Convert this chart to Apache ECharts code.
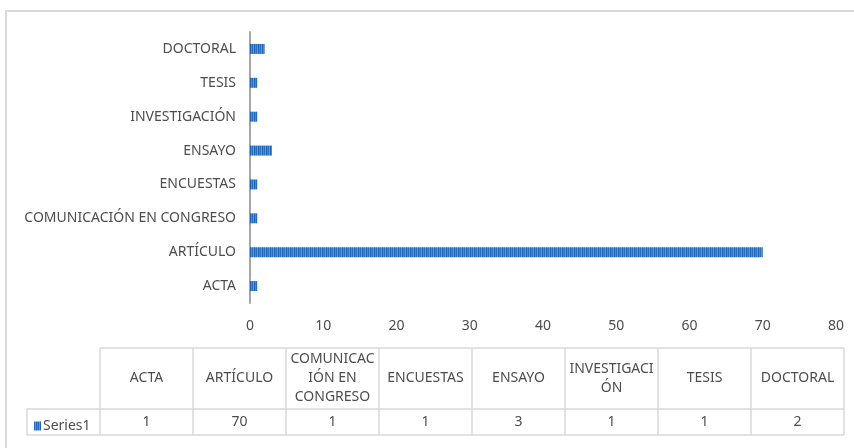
<!DOCTYPE html>
<html>
<head>
<meta charset="utf-8">
<script src="https://cdn.jsdelivr.net/npm/echarts@6/dist/echarts.min.js"></script>
<style>
  html, body { margin: 0; padding: 0; background: #fff; }
  #chart { width: 854px; height: 448px; }
</style>
</head>
<body>
<div id="chart"></div>
<script>
// datos del grafico
const categories = ['ACTA', 'ARTÍCULO', 'COMUNICACIÓN EN CONGRESO', 'ENCUESTAS', 'ENSAYO', 'INVESTIGACIÓN', 'TESIS', 'DOCTORAL'];
const headerLabels = ['ACTA', 'ARTÍCULO', 'COMUNICAC\nIÓN EN\nCONGRESO', 'ENCUESTAS', 'ENSAYO', 'INVESTIGACI\nÓN', 'TESIS', 'DOCTORAL'];
const series1 = [1, 70, 1, 1, 3, 1, 1, 2];
const xTicks = [0, 10, 20, 30, 40, 50, 60, 70, 80];
const seriesName = 'Series1';

const font = 'Noto Sans';
const textColor = '#4d4d4d';
const lineColor = '#d9d9d9';

// relleno rayado de las barras
function stripes() {
  const c = document.createElement('canvas');
  c.width = 4; c.height = 4;
  const ctx = c.getContext('2d');
  const cols = ['#2a6ebf', '#5b9bd5', '#1f62b0', '#4a88cf'];
  cols.forEach((col, i) => { ctx.fillStyle = col; ctx.fillRect(i, 0, 1, 4); });
  return c;
}
const barFill = { image: stripes(), repeat: 'repeat' };

// tabla de datos
const tLeft = 100, colW = 93, tTop = 348, headH = 61, rowH = 26, sLeft = 27;
const tRight = tLeft + colW * categories.length;
const graphics = [];
const line = (x1, y1, x2, y2) => graphics.push({
  type: 'line', silent: true,
  shape: { x1, y1, x2, y2 },
  style: { stroke: lineColor, lineWidth: 1.5 }
});
line(tLeft, tTop, tRight, tTop);
line(sLeft, tTop + headH, tRight, tTop + headH);
line(sLeft, tTop + headH + rowH, tRight, tTop + headH + rowH);
line(sLeft, tTop + headH, sLeft, tTop + headH + rowH);
for (let i = 0; i <= categories.length; i++) {
  line(tLeft + i * colW, tTop, tLeft + i * colW, tTop + headH + rowH);
}
headerLabels.forEach((h, i) => {
  graphics.push({
    type: 'text', silent: true,
    x: tLeft + i * colW + colW / 2, y: tTop + headH / 2,
    style: { text: h, align: 'center', verticalAlign: 'middle', fill: textColor,
      font: '14px "' + font + '"', lineHeight: 19 }
  });
});
series1.forEach((v, i) => {
  graphics.push({
    type: 'text', silent: true,
    x: tLeft + i * colW + colW / 2, y: tTop + headH + rowH / 2,
    style: { text: String(v), align: 'center', verticalAlign: 'middle', fill: textColor,
      font: '14px "' + font + '"' }
  });
});
// borde exterior
graphics.push({
  type: 'rect', silent: true, z: -1,
  shape: { x: 6, y: 11, width: 900, height: 500 },
  style: { fill: 'none', stroke: lineColor, lineWidth: 2 }
});

const myChart = echarts.init(document.getElementById('chart'));
myChart.setOption({
  animation: false,
  textStyle: { fontFamily: font },
  grid: { left: 250, right: 18, top: 32, bottom: 145 },
  legend: {
    left: sLeft + 2, top: tTop + headH + 5,
    itemWidth: 7, itemHeight: 9, itemGap: 0,
    icon: 'rect',
    textStyle: { color: textColor, fontSize: 14, fontFamily: font, padding: [0, 0, 0, -3] },
    data: [seriesName]
  },
  xAxis: {
    type: 'value', min: 0, max: 80, interval: 10,
    axisLine: { show: false }, axisTick: { show: false },
    splitLine: { show: false },
    axisLabel: { color: textColor, fontSize: 14, margin: 16,
      formatter: v => xTicks.includes(v) ? String(v) : '' }
  },
  yAxis: {
    type: 'category', data: categories,
    axisLine: { lineStyle: { color: '#a6a6a6', width: 2 } },
    axisTick: { show: false },
    axisLabel: { color: textColor, fontSize: 14, margin: 14 }
  },
  series: [{
    name: seriesName, type: 'bar', data: series1,
    barWidth: 10,
    itemStyle: { color: barFill }
  }],
  graphic: graphics
});
</script>
</body>
</html>
